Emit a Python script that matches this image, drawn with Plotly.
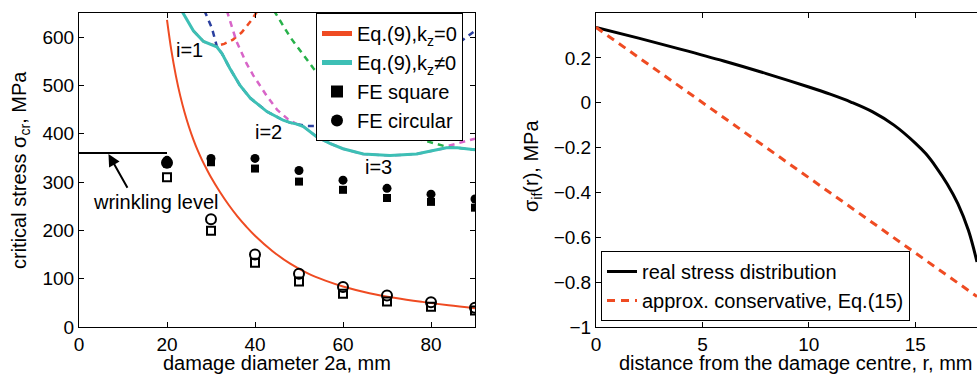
import plotly.graph_objects as go

# ---------------- left panel data ----------------
red_x = [20, 21, 22, 23, 24, 25, 26, 27, 28, 29, 30, 32, 34, 36, 38, 40, 44, 48, 52, 56, 60, 66, 72, 78, 84, 90]
red_y = [636, 572, 521, 479, 444, 414, 388, 365, 345, 327, 310, 280, 253, 229, 208, 189, 157, 131, 111, 96,
         84, 70, 60, 52, 45, 39]

teal_x = [23.0, 26, 28.3, 30, 31.3, 32.5, 34.3, 36.6, 38.9, 42.7, 46.4, 48, 49.5, 51, 52.5, 54, 57, 60,
          64.6, 70.7, 76.7, 80, 83.5, 86, 88, 90]
teal_y = [660, 613, 591, 585, 580, 566, 535, 500, 474, 446, 428, 423, 420, 415, 404, 394, 380, 369,
          358, 355, 358, 364, 371, 371, 369, 367]

# mode curves (dashed)
m1_x = [26, 28.3, 30, 31.3, 33, 35, 37, 39, 41]
m1_y = [613, 591, 585, 582, 586, 595, 610, 633, 660]
m2_x = [28.5, 30.2, 31.3, 32.5, 34.3, 36.6, 38.9, 42.7, 46.4, 48, 49.5, 52, 54, 60, 70, 80, 90]
m2_y = [655, 619, 582, 566, 535, 500, 474, 446, 428, 423, 420, 416, 416, 432, 480, 545, 613]
m3_x = [33.6, 35.8, 38.1, 39.6, 42.7, 45, 47.5, 49.5, 51, 52.5, 54, 57, 60, 64.6, 70.7, 76.7, 80,
        82.5, 84, 86, 88, 90]
m3_y = [655, 591, 545, 521, 478, 450, 430, 420, 415, 404, 394, 380, 369, 358, 355, 358, 364,
        369, 375, 380, 385, 390]
m4_x = [44.3, 48, 53.3, 60, 67, 73, 76.5, 80, 84, 86, 88, 90]
m4_y = [655, 600, 535, 465, 420, 400, 391, 382, 372, 371, 369, 367]

fe_x = [20, 30, 40, 50, 60, 70, 80, 90]
fe_sq_filled = [338, 341, 328, 301, 284, 267, 259, 247]
fe_ci_filled = [345, 349, 349, 324, 304, 287, 275, 265]
fe_sq_open = [310, 199, 133, 94, 69, 53, 42, 34]
fe_ci_open = [340, 223, 150, 110, 83, 65, 51, 40]

wrinkle_x = [0, 20]
wrinkle_y = [360, 360]

# ---------------- right panel data ----------------
r_real = [0, 2, 4, 6, 8, 10, 11, 12, 13, 14, 15, 15.5, 16, 16.5, 17, 17.5, 17.9]
s_real = [0.336, 0.288, 0.238, 0.186, 0.130, 0.070, 0.038, 0.002, -0.041, -0.100, -0.180,
          -0.228, -0.290, -0.362, -0.450, -0.570, -0.710]
r_appr = [0, 17.9]
s_appr = [0.336, -0.864]

RED = "#ef4b22"
TEAL = "#3dbfb5"
BLUE = "#2a3f9f"
MAG = "#d865c8"
GRN = "#27b14a"
FONT = "Liberation Sans, Arial, sans-serif"

fig = go.Figure()

dash = "6px,5px"
for xs, ys, c in [(m1_x, m1_y, RED), (m2_x, m2_y, BLUE), (m3_x, m3_y, MAG), (m4_x, m4_y, GRN)]:
    fig.add_trace(go.Scatter(x=xs, y=ys, mode="lines", line=dict(color=c, width=2.5, dash=dash),
                             showlegend=False, xaxis="x", yaxis="y", hoverinfo="skip"))

fig.add_trace(go.Scatter(x=wrinkle_x, y=wrinkle_y, mode="lines", line=dict(color="black", width=2),
                         showlegend=False, xaxis="x", yaxis="y"))

fig.add_trace(go.Scatter(x=red_x, y=red_y, mode="lines", line=dict(color=RED, width=2, shape="spline"),
                         name="Eq.(9),k<sub>z</sub>=0", xaxis="x", yaxis="y", legend="legend"))
fig.add_trace(go.Scatter(x=teal_x, y=teal_y, mode="lines", line=dict(color=TEAL, width=3),
                         name="Eq.(9),k<sub>z</sub>≠0", xaxis="x", yaxis="y", legend="legend"))

fig.add_trace(go.Scatter(x=fe_x, y=fe_sq_open, mode="markers",
                         marker=dict(symbol="square-open", size=8, color="black", line=dict(width=2)),
                         showlegend=False, xaxis="x", yaxis="y"))
fig.add_trace(go.Scatter(x=fe_x, y=fe_ci_open, mode="markers",
                         marker=dict(symbol="circle-open", size=10, color="black", line=dict(width=2)),
                         showlegend=False, xaxis="x", yaxis="y"))
fig.add_trace(go.Scatter(x=fe_x, y=fe_sq_filled, mode="markers",
                         marker=dict(symbol="square", size=8, color="black"),
                         name="FE square", xaxis="x", yaxis="y", legend="legend"))
fig.add_trace(go.Scatter(x=fe_x, y=fe_ci_filled, mode="markers",
                         marker=dict(symbol="circle", size=9, color="black"),
                         name="FE circular", xaxis="x", yaxis="y", legend="legend"))

fig.add_trace(go.Scatter(x=r_real, y=s_real, mode="lines", line=dict(color="black", width=3, shape="spline"),
                         name="real stress distribution", xaxis="x2", yaxis="y2", legend="legend2"))
fig.add_trace(go.Scatter(x=r_appr, y=s_appr, mode="lines", line=dict(color=RED, width=3, dash="8px,6px"),
                         name="approx. conservative, Eq.(15)", xaxis="x2", yaxis="y2", legend="legend2"))

L, R, T, B = 79, 0, 13, 47
W, H = 977, 374
pw = W - L - R
ph = H - T - B


def px_x(p):
    return (p - L) / pw


def px_y(p):
    return (H - B - p) / ph


axis_common = dict(showgrid=False, zeroline=False, showline=True, linecolor="black", linewidth=1,
                   ticks="inside", ticklen=5, tickcolor="black",
                   tickfont=dict(family=FONT, size=19, color="black"))

fig.update_layout(
    width=W, height=H,
    margin=dict(l=L, r=R, t=T, b=B, pad=0),
    paper_bgcolor="white", plot_bgcolor="white",
    font=dict(family=FONT, size=20, color="black"),
    xaxis=dict(domain=[0, px_x(475)], range=[0, 90], tickvals=[0, 20, 40, 60, 80], mirror="ticks",
               anchor="y", **axis_common),
    yaxis=dict(domain=[0, 1], range=[0, 650], tickvals=[0, 100, 200, 300, 400, 500, 600], mirror="ticks",
               anchor="x", **axis_common),
    xaxis2=dict(domain=[px_x(596), 1], range=[0, 17.9], tickvals=[0, 5, 10, 15], mirror="ticks",
                anchor="y2", **axis_common),
    yaxis2=dict(domain=[0, 1], range=[-1, 0.4], tickvals=[-1, -0.8, -0.6, -0.4, -0.2, 0, 0.2],
                ticktext=["−1", "−0.8", "−0.6", "−0.4", "−0.2", "0", "0.2"], anchor="x2", **axis_common),
    legend=dict(x=px_x(316), y=1, xanchor="left", yanchor="top", bgcolor="white",
                bordercolor="black", borderwidth=1, font=dict(family=FONT, size=20),
                tracegroupgap=0, itemsizing="constant"),
    legend2=dict(x=px_x(601), y=px_y(321), xanchor="left", yanchor="bottom", bgcolor="white",
                 bordercolor="black", borderwidth=1, font=dict(family=FONT, size=20),
                 tracegroupgap=0),
    showlegend=True,
)

ann = []
ann.append(dict(x=px_x(277), y=px_y(363), xref="paper", yref="paper", text="damage diameter 2a, mm",
                xanchor="center", yanchor="middle", showarrow=False, font=dict(size=20)))
ann.append(dict(x=px_x(796), y=px_y(363), xref="paper", yref="paper",
                text="distance from the damage centre, r, mm", xanchor="center", yanchor="middle",
                showarrow=False, font=dict(size=20)))
ann.append(dict(x=px_x(20), y=px_y(170), xref="paper", yref="paper",
                text="critical stress σ<sub>cr</sub>, MPa", textangle=-90, xanchor="center",
                yanchor="middle", showarrow=False, font=dict(size=20)))
ann.append(dict(x=px_x(532), y=px_y(166), xref="paper", yref="paper",
                text="σ<sub>if</sub>(r), MPa", textangle=-90, xanchor="center", yanchor="middle",
                showarrow=False, font=dict(size=20)))
for t, xx, yy in [("i=1", 25, 573), ("i=2", 43, 403), ("i=3", 68, 331)]:
    ann.append(dict(x=xx, y=yy, xref="x", yref="y", text=t, showarrow=False, xanchor="center",
                    yanchor="middle", font=dict(size=20)))
ann.append(dict(x=17.5, y=258, xref="x", yref="y", text="wrinkling level", showarrow=False,
                xanchor="center", yanchor="middle", font=dict(size=20)))
ann.append(dict(x=6.7, y=358, xref="x", yref="y", ax=11.2, ay=285, axref="x", ayref="y", text="",
                showarrow=True, arrowhead=2, arrowsize=1.2, arrowwidth=2, arrowcolor="black"))
fig.update_layout(annotations=ann)

fig.write_html("out.html", config={"displayModeBar": False},
               post_script="document.body.style.margin='0px';"
                           "document.body.style.overflow='hidden';")
